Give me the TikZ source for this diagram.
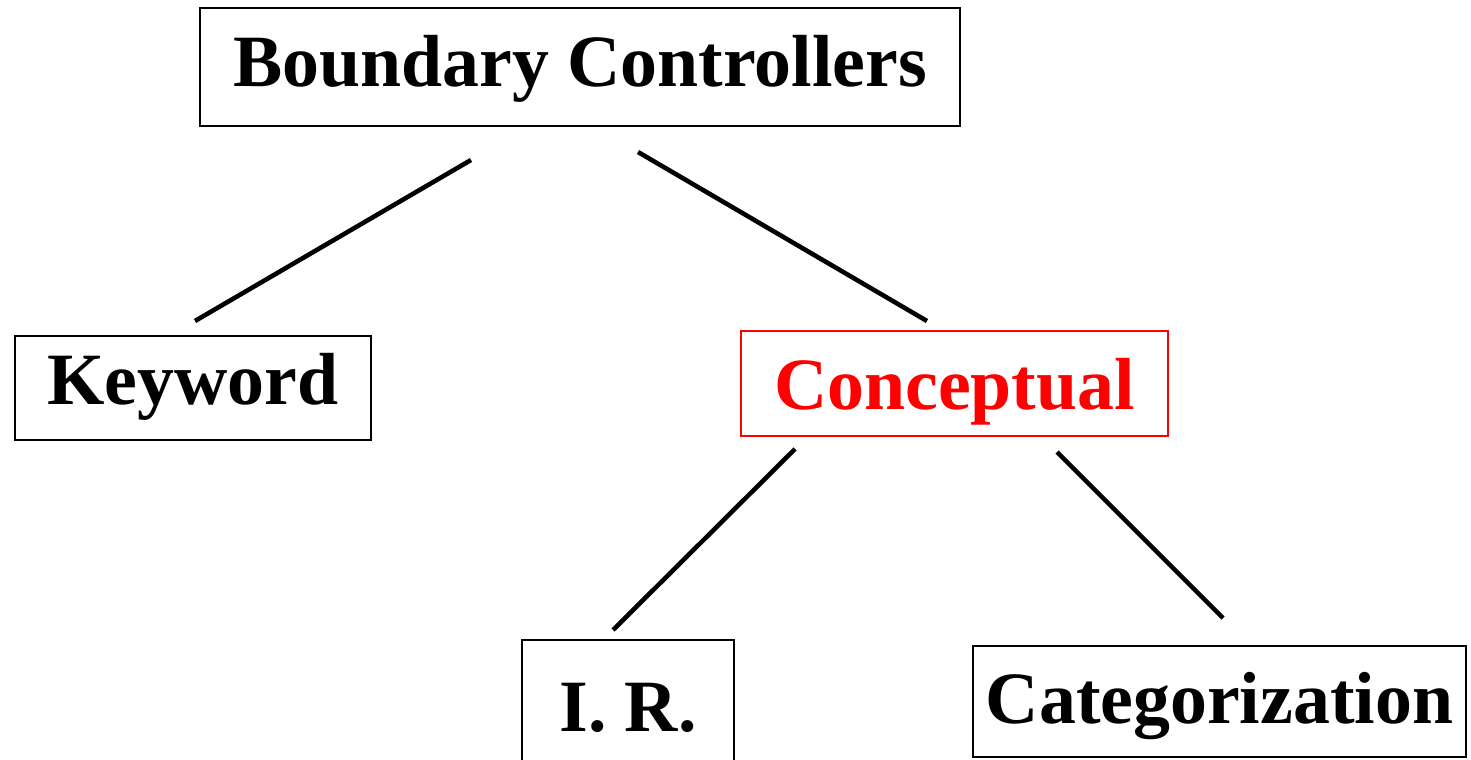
\documentclass[tikz,border=0pt]{standalone}
\usepackage{fontspec}
\setmainfont{Liberation Serif}
\begin{document}
\begin{tikzpicture}[x=0.02cm,y=-0.02cm,
  box/.style={draw=black,line width=1.2pt,inner sep=0pt,text depth=0pt,
    font=\fontsize{42}{48}\selectfont\bfseries},
  link/.style={line width=2.6pt}]
\clip (0,0) rectangle (1471,760);
\useasboundingbox (0,0) rectangle (1471,760);
% tree nodes
\node[box,text height=22.7pt,minimum width=15.2cm,minimum height=2.36cm] (bc) at (580,67) {Boundary Controllers};
\node[box,text height=19.3pt,minimum width=7.12cm,minimum height=2.08cm] (kw) at (193,388) {Keyword};
\node[box,text height=30pt,draw=red,text=red,minimum width=8.54cm,minimum height=2.1cm] (cp) at (954.5,383.5) {Conceptual};
\node[box,text height=24.9pt,minimum width=4.24cm,minimum height=2.8cm] (ir) at (628,710) {I. R.};
\node[box,text height=25.5pt,minimum width=9.86cm,minimum height=2.22cm] (ca) at (1219.5,701.5) {Categorization};
% connector ends, kept clear of the boxes
\coordinate (bcL) at (471,160);
\coordinate (kwT) at (195,321);
\coordinate (bcR) at (638,152);
\coordinate (cpT) at (927,321);
\coordinate (cpL) at (795,449);
\coordinate (irT) at (613,630);
\coordinate (cpR) at (1057,452);
\coordinate (caT) at (1223,618);
\draw[link] (bcL) -- (kwT);
\draw[link] (bcR) -- (cpT);
\draw[link] (cpL) -- (irT);
\draw[link] (cpR) -- (caT);
\end{tikzpicture}
\end{document}
